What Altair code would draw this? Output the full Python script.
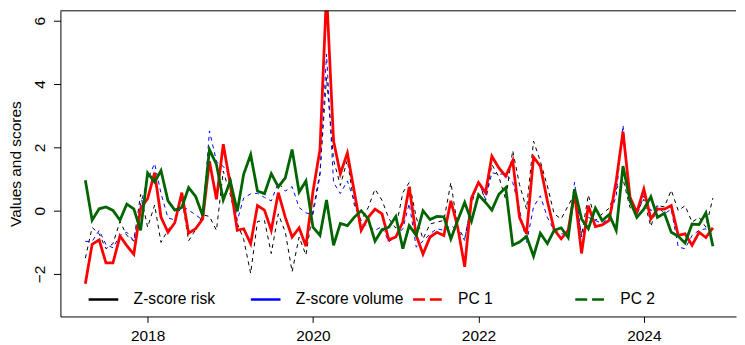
import altair as alt
import pandas as pd

# ---- data (monthly, Apr 2017 .. Nov 2024) ----
start_month = "2017-04-01"
n_months = 92

z_risk = [-1.5, -0.53, -0.73, -1.2, -1.04, -0.34, -0.78, -0.96, 0.51, -0.52,
          0.18, -1.0, -0.6, -0.36, 0.4, -0.95, -0.6, -0.13, -0.18, -0.62,
          1.25, 0.5, -0.4, -0.9, -1.98, -0.34, -0.31, -1.35, -0.1, -0.68,
          -1.93, -0.83, -1.4, 0.0, 1.2, 4.2, 1.6, 0.8, 1.6, 0.2,
          -0.31, 0.1, 0.68, 0.33, -0.25, -0.55, 0.57, 0.89, -0.21, -0.89,
          -0.42, -0.36, -0.31, 0.89, -0.52, -0.89, 0.21, 0.94, 0.31, 1.46,
          1.07, 0.36, 1.9, 0.83, 0.05, 2.2, 1.56, 0.78, -0.1, -0.26,
          0.16, 0.52, -0.78, 0.5, -0.31, -0.1, 0.08, 0.68, 1.0, 0.1,
          -0.05, 0.36, -0.5, 0.16, 0.12, 0.65, 0.0, 0.16, -0.36, -0.21,
          -0.52, 0.4]

z_volume = [-0.97, -0.97, -0.62, -1.07, -1.17, -0.78, -0.68, -0.95, 0.21, 0.99,
            1.49, 0.55, -0.23, -0.29, 0.15, 0.02, -0.13, -0.3, 2.52, 1.56,
            1.4, 1.09, -0.31, 0.4, 0.53, 0.55, 0.42, 0.31, 0.89, 0.62,
            0.76, 0.1, -0.07, -0.12, 1.1, 4.95, 0.89, 0.54, 0.94, 0.31,
            -0.42, -0.47, -0.62, -0.5, -0.99, -0.8, -0.57, 0.23, -1.15, -0.96,
            -0.73, -0.57, -0.62, -0.47, -0.62, -0.94, 0.33, 0.92, 0.36, 1.2,
            1.15, 1.17, 0.9, 0.05, -1.02, 0.12, 0.47, -0.21, -0.62, -0.73,
            -0.73, 0.9, -0.83, -0.21, -0.31, -0.4, -0.21, 0.47, 2.7, 0.42,
            -0.16, 0.47, 0.0, 0.16, -0.1, 0.05, -1.15, -1.2, -0.78, -0.62,
            -0.57, -0.89]

pc1 = [-2.31, -1.06, -0.92, -1.65, -1.65, -0.8, -1.1, -1.375, 0.07, 0.38,
       1.2, -0.2, -0.68, -0.38, 0.57, -0.71, -0.57, -0.26, 1.56, 0.36,
       2.1, 0.83, -0.62, -0.57, -1.04, 0.16, 0.02, -0.62, 0.57, -0.21,
       -0.83, -0.54, -1.12, 0.6, 1.93, 6.9, 2.2, 1.17, 1.82, 0.62,
       -0.62, -0.21, 0.05, -0.1, -0.92, -0.83, -0.36, 0.75, -0.78, -1.37,
       -0.83, -0.68, -0.78, 0.31, -0.52, -1.77, 0.4, 0.89, 0.57, 1.72,
       1.35, 1.09, 1.58, -0.21, -0.73, 1.69, 1.41, 0.31, -0.6, -0.89,
       -0.62, 0.57, -1.35, 0.16, -0.5, -0.45, -0.31, 0.94, 2.5, 0.42,
       -0.05, 0.68, -0.26, 0.05, 0.05, 0.16, -0.78, -0.73, -1.09, -0.68,
       -0.85, -0.54]

pc2 = [0.96, -0.3, 0.06, 0.12, 0.01, -0.3, 0.21, 0.06, -0.62, 1.19,
       0.91, 1.27, 0.31, 0.02, 0.1, 0.73, 0.45, -0.15, 1.93, 1.46,
       0.34, 0.94, -0.02, 1.15, 1.77, 0.62, 0.54, 1.17, 0.75, 1.04,
       1.93, 0.59, 0.94, -0.52, -0.78, 0.34, -1.09, -0.4, -0.47, -0.21,
       0.0, -0.26, -0.96, -0.6, -0.52, -0.18, -1.2, -0.47, -0.78, 0.0,
       -0.28, -0.18, -0.19, -0.89, -0.31, 0.26, -0.33, 0.5, 0.26, 0.02,
       0.52, 0.73, -1.09, -0.99, -0.81, -1.44, -0.71, -1.04, -0.62, -0.54,
       -0.85, 0.68, -0.26, -0.57, 0.08, -0.31, -0.12, -0.62, 1.41, 0.31,
       -0.21, 0.05, 0.44, -0.21, -0.08, -0.68, -0.81, -1.02, -0.42, -0.44,
       -0.07, -1.12]

series_labels = ["Z-score risk", "Z-score volume", "PC 1", "PC 2"]
series_colors = ["#000000", "#0000FF", "#FF0000", "#006400"]
y_ticks = [-2, 0, 2, 4, 6]
x_tick_years = [2018, 2020, 2022, 2024]

dates = pd.date_range(start_month, periods=n_months, freq="MS")
frames = []
for lab, vals in zip(series_labels, [z_risk, z_volume, pc1, pc2]):
    frames.append(pd.DataFrame({"date": dates, "series": lab, "value": vals}))
df = pd.concat(frames, ignore_index=True)

FONT = "Liberation Sans"
FS = 15.6
PLOT_W = 683
PLOT_H = 309

x_enc = alt.X(
    "date:T",
    scale=alt.Scale(domain=[alt.DateTime(year=2016, month=12, date=12),
                            alt.DateTime(year=2025, month=2, date=11)], nice=False),
    axis=alt.Axis(values=[alt.DateTime(year=y, month=1, date=1) for y in x_tick_years],
                  format="%Y", title=None, grid=False, tickSize=6, labelPadding=6,
                  domainColor="black", tickColor="black", labelColor="black",
                  labelFont=FONT, labelFontSize=FS, labelFlush=False),
)
y_enc = alt.Y(
    "value:Q",
    scale=alt.Scale(domain=[-3.34, 6.3125], nice=False, zero=False),
    axis=alt.Axis(values=y_ticks, title="Values and scores", grid=False,
                  tickSize=7, labelPadding=6, labelAngle=270, labelAlign="center",
                  labelBaseline="bottom", domainColor="black", tickColor="black",
                  labelColor="black", labelFont=FONT, labelFontSize=FS,
                  titleFont=FONT, titleFontSize=FS, titleFontWeight="normal",
                  titleColor="black", titleX=-40.5, titleBaseline="alphabetic"),
)

styles = {
    "Z-score risk": dict(strokeWidth=1, strokeDash=[4, 4]),
    "Z-score volume": dict(strokeWidth=1, strokeDash=[4, 4]),
    "PC 1": dict(strokeWidth=2.8),
    "PC 2": dict(strokeWidth=2.8),
}

layers = []
for lab, col in zip(series_labels, series_colors):
    layers.append(
        alt.Chart(df)
        .transform_filter(alt.datum.series == lab)
        .mark_line(color=col, clip=True, **styles[lab])
        .encode(x=x_enc, y=y_enc)
    )

legend_props = dict(
    title=None, orient="none", legendX=27, legendY=275, direction="horizontal",
    columns=4, gridAlign="all", symbolType="stroke", symbolSize=900,
    symbolStrokeWidth=2.5, labelFont=FONT, labelFontSize=15.8, labelColor="black",
    labelOffset=14, columnPadding=4, padding=0,
)
legend_layer = (
    alt.Chart(df)
    .transform_filter("false")
    .mark_line()
    .encode(
        x=x_enc,
        y=y_enc,
        color=alt.Color("series:N", scale=alt.Scale(domain=series_labels, range=series_colors),
                        legend=alt.Legend(**legend_props)),
        strokeDash=alt.StrokeDash("series:N",
                                  scale=alt.Scale(domain=series_labels,
                                                  range=[[1, 0], [1, 0], [12, 5], [12, 5]]),
                                  legend=alt.Legend(**legend_props)),
    )
)

top_border = (
    alt.Chart(pd.DataFrame({"k": [1]}))
    .mark_rule(color="black", strokeWidth=1)
    .encode(x=alt.value(0), x2=alt.value(PLOT_W), y=alt.value(0))
)

chart = (
    alt.layer(*layers, legend_layer, top_border)
    .properties(width=PLOT_W, height=PLOT_H, padding=0, background="white")
    .configure_view(stroke=None)
)

chart.save("out.html", embed_options={"renderer": "svg", "actions": False})
